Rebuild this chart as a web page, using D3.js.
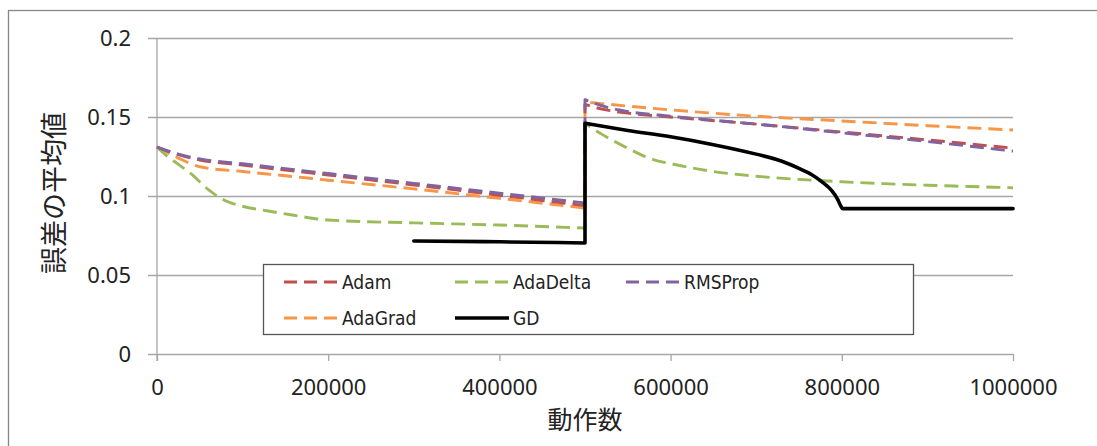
<!DOCTYPE html>
<html>
<head>
<meta charset="utf-8">
<script src="https://cdn.jsdelivr.net/npm/d3@7"></script>
<style>
  html, body { margin: 0; padding: 0; background: #fff; }
  svg { display: block; }
</style>
</head>
<body>
<svg id="chart" width="1097" height="446"></svg>
<script>
// Series: error average vs. number of operations (two phases, reset at 500000)
const adamX = [0, 25000, 50000, 100000, 150000, 200000, 300000, 400000, 500000,
               500000, 520000, 550000, 600000, 700000, 800000, 900000, 1000000];
const adamY = [0.131, 0.1262, 0.1228, 0.1196, 0.1164, 0.1133, 0.107, 0.1005, 0.0939,
               0.158, 0.155, 0.1525, 0.150, 0.1455, 0.1405, 0.1355, 0.1303];

const adaDeltaX = [0, 10000, 20000, 40000, 60000, 80000, 100000, 130000, 160000, 200000, 300000, 400000, 500000,
                   500000, 520000, 540000, 560000, 580000, 600000, 650000, 700000, 750000, 800000, 850000, 900000, 950000, 1000000];
const adaDeltaY = [0.131, 0.126, 0.122, 0.114, 0.104, 0.097, 0.0935, 0.0905, 0.0878, 0.0848, 0.0830, 0.0816, 0.0797,
                   0.146, 0.139, 0.133, 0.1275, 0.123, 0.1205, 0.1155, 0.1125, 0.1105, 0.109, 0.1078, 0.1068, 0.106, 0.1052];

const rmsPropX = [0, 25000, 50000, 100000, 150000, 200000, 300000, 400000, 500000,
                  500000, 520000, 550000, 600000, 700000, 800000, 900000, 1000000];
const rmsPropY = [0.131, 0.1265, 0.1235, 0.1204, 0.1173, 0.1142, 0.108, 0.1018, 0.0956,
                  0.161, 0.157, 0.1535, 0.1505, 0.1455, 0.140, 0.1345, 0.1284];

const adaGradX = [0, 25000, 50000, 100000, 150000, 200000, 300000, 400000, 500000,
                  500000, 600000, 700000, 800000, 900000, 1000000];
const adaGradY = [0.131, 0.124, 0.1185, 0.1155, 0.1128, 0.110, 0.1045, 0.0985, 0.0924,
                  0.1595, 0.1545, 0.1505, 0.1475, 0.1445, 0.1418];

const gdX = [300000, 400000, 500000,
             500000, 550000, 600000, 650000, 700000, 730000, 750000, 765000, 778000, 788000, 795000, 799000, 801000, 1000000];
const gdY = [0.0715, 0.0710, 0.0703,
             0.146, 0.1415, 0.1375, 0.1325, 0.1265, 0.122, 0.1175, 0.1135, 0.1085, 0.1035, 0.098, 0.0935, 0.092, 0.092];

const seriesNames = ["Adam", "AdaDelta", "RMSProp", "AdaGrad", "GD"];
const xTicks = [0, 200000, 400000, 600000, 800000, 1000000];
const yTicks = [0, 0.05, 0.1, 0.15, 0.2];
const xTitle = "動作数";
const yTitle = "誤差の平均値";

const styles = {
  Adam:     { color: "#c0504d", dash: "14,7", width: 2.9 },
  AdaDelta: { color: "#9bbb59", dash: "14,7", width: 2.9 },
  RMSProp:  { color: "#8064a2", dash: "14,7", width: 2.9 },
  AdaGrad:  { color: "#f79646", dash: "14,7", width: 2.9 },
  GD:       { color: "#000000", dash: null,   width: 3.6 }
};

const series = [
  { name: "Adam", x: adamX, y: adamY },
  { name: "AdaDelta", x: adaDeltaX, y: adaDeltaY },
  { name: "AdaGrad", x: adaGradX, y: adaGradY },
  { name: "RMSProp", x: rmsPropX, y: rmsPropY },
  { name: "GD", x: gdX, y: gdY }
];
// draw order: Adam under RMSProp
const drawOrder = ["AdaGrad", "AdaDelta", "Adam", "RMSProp", "GD"];

const svg = d3.select("#chart");
const plot = { left: 157, right: 1013, top: 38, bottom: 354 };

// outer chart frame
svg.append("rect")
  .attr("x", 8.5).attr("y", 10.5)
  .attr("width", 1100).attr("height", 450)
  .attr("fill", "#fff").attr("stroke", "#878787").attr("stroke-width", 1.3);

const x = d3.scaleLinear().domain([0, 1000000]).range([plot.left, plot.right]);
const y = d3.scaleLinear().domain([0, 0.2]).range([plot.bottom, plot.top]);

const tickFont = "'Noto Sans', 'Open Sans', sans-serif";
const gridColor = "#a6a6a6";

// horizontal gridlines (with left tick stubs)
const yAxis = d3.axisLeft(y).tickValues(yTicks)
  .tickSize(-(plot.right - plot.left + 9))
  .tickFormat(d => d === 0 ? "0" : d3.format("")(+d.toFixed(2)));
const gy = svg.append("g")
  .attr("transform", `translate(${plot.left - 9},0)`)
  .call(yAxis);
gy.select(".domain").remove();
gy.selectAll(".tick line").attr("stroke", gridColor).attr("stroke-width", 1.3);
gy.selectAll(".tick text")
  .attr("x", -17)
  .attr("fill", "#222")
  .style("font-family", tickFont).style("font-size", "22px");

// vertical axis line
svg.append("line")
  .attr("x1", plot.left).attr("x2", plot.left)
  .attr("y1", plot.top).attr("y2", plot.bottom + 7)
  .attr("stroke", gridColor).attr("stroke-width", 1.3);

// x axis with downward ticks
const xAxis = d3.axisBottom(x).tickValues(xTicks).tickSize(7).tickSizeOuter(0)
  .tickFormat(d3.format("d"));
const gx = svg.append("g")
  .attr("transform", `translate(0,${plot.bottom})`)
  .call(xAxis);
gx.select(".domain").remove();
gx.selectAll(".tick line").attr("stroke", gridColor).attr("stroke-width", 1.3);
gx.selectAll(".tick text")
  .attr("y", 25)
  .attr("fill", "#222")
  .style("font-family", tickFont).style("font-size", "22px");

// axis titles
svg.append("text")
  .attr("x", (plot.left + plot.right) / 2).attr("y", 429)
  .attr("text-anchor", "middle")
  .attr("fill", "#222")
  .style("font-family", "'Noto Sans CJK JP', sans-serif").style("font-size", "25px")
  .text(xTitle);

svg.append("text")
  .attr("transform", "translate(64,193) rotate(-90)")
  .attr("text-anchor", "middle")
  .attr("fill", "#222")
  .style("font-family", "'Noto Sans CJK JP', sans-serif").style("font-size", "27px")
  .text(yTitle);

// lines: each phase is smoothed on its own, joined by the vertical reset
const smooth = d3.line().x(d => x(d[0])).y(d => y(d[1])).curve(d3.curveMonotoneX);
function seriesPath(s) {
  const pts = s.x.map((v, i) => [v, s.y[i]]);
  const segments = [[pts[0]]];
  for (let i = 1; i < pts.length; i++) {
    if (pts[i][0] === pts[i - 1][0]) segments.push([]);
    segments[segments.length - 1].push(pts[i]);
  }
  return segments.map((seg, i) => {
    const d = seg.length > 1 ? smooth(seg) : `M${x(seg[0][0])},${y(seg[0][1])}`;
    return i === 0 ? d : "L" + d.slice(1);
  }).join("");
}

const byName = Object.fromEntries(series.map(s => [s.name, s]));
drawOrder.forEach(name => {
  const s = byName[name];
  const st = styles[name];
  svg.append("path")
    .attr("d", seriesPath(s))
    .attr("fill", "none")
    .attr("stroke", st.color)
    .attr("stroke-width", st.width)
    .attr("stroke-dasharray", st.dash)
    .attr("stroke-linejoin", "round")
    .attr("stroke-linecap", st.dash ? "butt" : "round");
});

// legend
const legend = svg.append("g");
legend.append("rect")
  .attr("x", 263.5).attr("y", 264.5).attr("width", 650).attr("height", 70)
  .attr("fill", "#fff").attr("stroke", "#555").attr("stroke-width", 1.3);
const legendPos = [[284, 282], [455, 282], [626, 282], [284, 318], [455, 318]];
seriesNames.forEach((name, i) => {
  const [lx, ly] = legendPos[i];
  const st = styles[name];
  legend.append("line")
    .attr("x1", lx).attr("x2", lx + 54).attr("y1", ly).attr("y2", ly)
    .attr("stroke", st.color).attr("stroke-width", st.width)
    .attr("stroke-dasharray", st.dash ? "13,7" : null);
  legend.append("text")
    .attr("x", lx + 58).attr("y", ly)
    .attr("dy", "0.36em")
    .attr("fill", "#222")
    .style("font-family", "'DejaVu Sans Condensed', 'Liberation Sans Narrow', 'Noto Sans', sans-serif")
    .style("font-stretch", "condensed")
    .style("font-size", "19px")
    .text(name);
});
</script>
</body>
</html>
